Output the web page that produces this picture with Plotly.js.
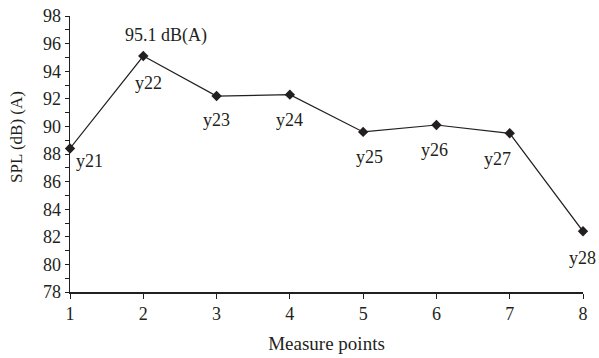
<!DOCTYPE html>
<html>
<head>
<meta charset="utf-8">
<script src="https://cdn.plot.ly/plotly-3.0.1.min.js"></script>
<style>body{margin:0;padding:0;background:#fff;} #chart{width:599px;height:358px;}</style>
</head>
<body>
<div id="chart"></div>
<script>
const measurePoints = [1, 2, 3, 4, 5, 6, 7, 8];
const splValues = [88.4, 95.1, 92.2, 92.3, 89.6, 90.1, 89.5, 82.4];
const pointLabels = ['y21', 'y22', 'y23', 'y24', 'y25', 'y26', 'y27', 'y28'];
const peakLabel = '95.1 dB(A)';
const peakIndex = 1;
const xTitle = 'Measure points';
const yTitle = 'SPL (dB) (A)';

const font = 'Liberation Serif, Times New Roman, serif';
const ink = '#231f20';

// label placement (pixel shifts relative to each marker)
const labelShift = [
  {xa: 'left', dx: 4, dy: -1},
  {xa: 'center', dx: 5, dy: -15},
  {xa: 'center', dx: 0, dy: -12},
  {xa: 'center', dx: 0, dy: -13},
  {xa: 'center', dx: 6, dy: -13},
  {xa: 'center', dx: -2, dy: -13},
  {xa: 'center', dx: -12, dy: -14},
  {xa: 'center', dx: -1, dy: -15}
];

const trace = {
  x: measurePoints,
  y: splValues,
  mode: 'lines+markers',
  line: {color: ink, width: 1.2},
  marker: {symbol: 'diamond', size: 8, color: ink},
  cliponaxis: false
};

const annotations = pointLabels.map((t, i) => ({
  x: measurePoints[i], y: splValues[i], xref: 'x', yref: 'y',
  text: t, showarrow: false,
  xanchor: labelShift[i].xa, yanchor: 'top',
  xshift: labelShift[i].dx, yshift: labelShift[i].dy,
  font: {family: font, size: 18, color: ink}
}));
annotations.push({
  x: measurePoints[peakIndex], y: splValues[peakIndex], xref: 'x', yref: 'y',
  text: peakLabel, showarrow: false, xanchor: 'center', yanchor: 'bottom',
  xshift: 23, yshift: 8,
  font: {family: font, size: 18, color: ink}
});
annotations.push({
  x: 0.0, y: 0.5616, xref: 'paper', yref: 'paper', xshift: -53,
  text: yTitle, showarrow: false, textangle: -90,
  xanchor: 'center', yanchor: 'middle',
  font: {family: font, size: 17, color: ink}
});

const layout = {
  width: 599, height: 358,
  margin: {l: 70, r: 16, t: 16, b: 66},
  paper_bgcolor: '#fff', plot_bgcolor: '#fff',
  showlegend: false,
  font: {family: font, size: 18, color: ink},
  xaxis: {
    range: [1, 8], tickvals: measurePoints, ticks: 'outside', ticklen: 5, tickcolor: ink,
    showline: true, linecolor: ink, linewidth: 1.5, showgrid: false, zeroline: false,
    title: {text: xTitle, font: {family: font, size: 19, color: ink}, standoff: 13},
    tickfont: {family: font, size: 18, color: ink}
  },
  yaxis: {
    range: [78, 98], dtick: 2, ticks: 'outside', ticklen: 4, tickcolor: ink,
    minor: {dtick: 1, ticks: 'outside', ticklen: 4, tickcolor: ink, showgrid: false},
    showline: true, linecolor: ink, linewidth: 1.5, showgrid: false, zeroline: false,
    tickfont: {family: font, size: 18, color: ink}
  },
  annotations: annotations
};

Plotly.newPlot('chart', [trace], layout, {displayModeBar: false, staticPlot: true});
</script>
</body>
</html>
